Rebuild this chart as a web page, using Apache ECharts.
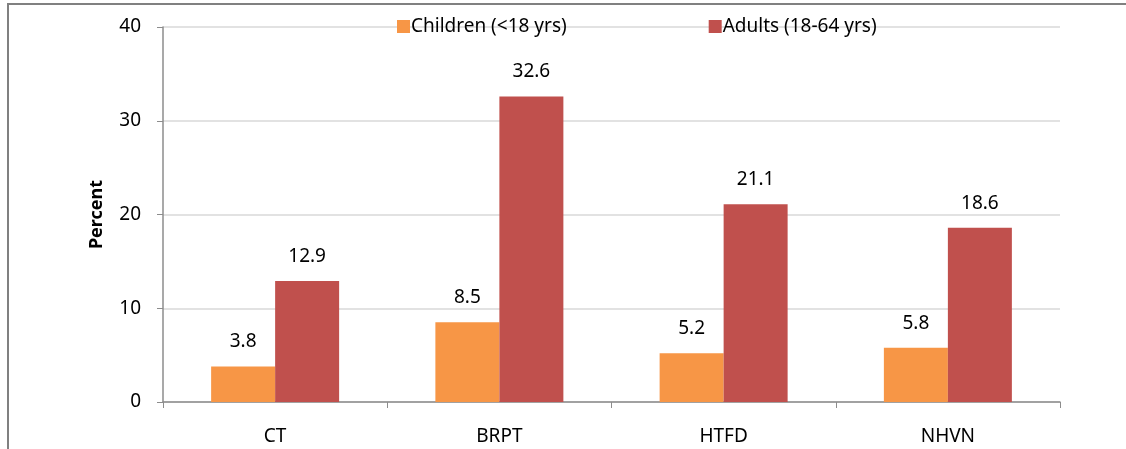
<!DOCTYPE html>
<html>
<head>
<meta charset="utf-8">
<script src="https://cdn.jsdelivr.net/npm/echarts@6/dist/echarts.min.js"></script>
<style>
html, body { margin: 0; padding: 0; background: #fff; }
#chart { width: 1126px; height: 449px; }
</style>
</head>
<body>
<div id="chart"></div>
<script>
var categories = ['CT', 'BRPT', 'HTFD', 'NHVN'];
var children = [3.8, 8.5, 5.2, 5.8];
var adults = [12.9, 32.6, 21.1, 18.6];

var FONT = 'Noto Sans';
var myChart = echarts.init(document.getElementById('chart'));
myChart.setOption({
	animation: false,
	textStyle: { fontFamily: FONT },
	grid: { left: 163, right: 66, top: 27, bottom: 47 },
	// outer frame (top and left edges)
	graphic: [
		{ type: 'line', shape: { x1: 7, y1: 4, x2: 1126, y2: 4 }, style: { stroke: '#808080', lineWidth: 2 } },
		{ type: 'line', shape: { x1: 8, y1: 4, x2: 8, y2: 449 }, style: { stroke: '#808080', lineWidth: 2 } }
	],
	legend: {
		top: 12,
		left: 392,
		itemGap: 142,
		itemWidth: 13,
		itemHeight: 13,
		icon: 'rect',
		textStyle: { fontSize: 19, color: '#000', fontFamily: FONT, padding: [0, 0, 0, -4] },
		data: ['Children (<18 yrs)', 'Adults (18-64 yrs)']
	},
	xAxis: {
		type: 'category',
		data: categories,
		axisLine: { lineStyle: { color: '#8c8c8c', width: 1.5 } },
		axisTick: { show: true, length: 6, lineStyle: { color: '#8c8c8c' } },
		axisLabel: { color: '#000', fontSize: 19, margin: 25 }
	},
	yAxis: {
		type: 'value',
		min: 0,
		max: 40,
		interval: 10,
		name: 'Percent',
		nameLocation: 'middle',
		nameGap: 57,
		nameTextStyle: { fontSize: 18, fontWeight: 'bold', color: '#000' },
		axisLine: { show: true, lineStyle: { color: '#8c8c8c', width: 1.5 } },
		axisTick: { show: true, length: 6, lineStyle: { color: '#8c8c8c' } },
		axisLabel: { color: '#000', fontSize: 19, margin: 22 },
		splitLine: { lineStyle: { color: '#d9d9d9', width: 1.5 } }
	},
	series: [
		{
			name: 'Children (<18 yrs)',
			type: 'bar',
			color: '#f79646',
			barWidth: 64,
			barGap: '0%',
			label: { show: true, position: 'top', distance: 15, fontSize: 19, color: '#000' },
			data: children
		},
		{
			name: 'Adults (18-64 yrs)',
			type: 'bar',
			color: '#c0504d',
			barWidth: 64,
			barGap: '0%',
			label: { show: true, position: 'top', distance: 15, fontSize: 19, color: '#000' },
			data: adults
		}
	]
});
</script>
</body>
</html>
